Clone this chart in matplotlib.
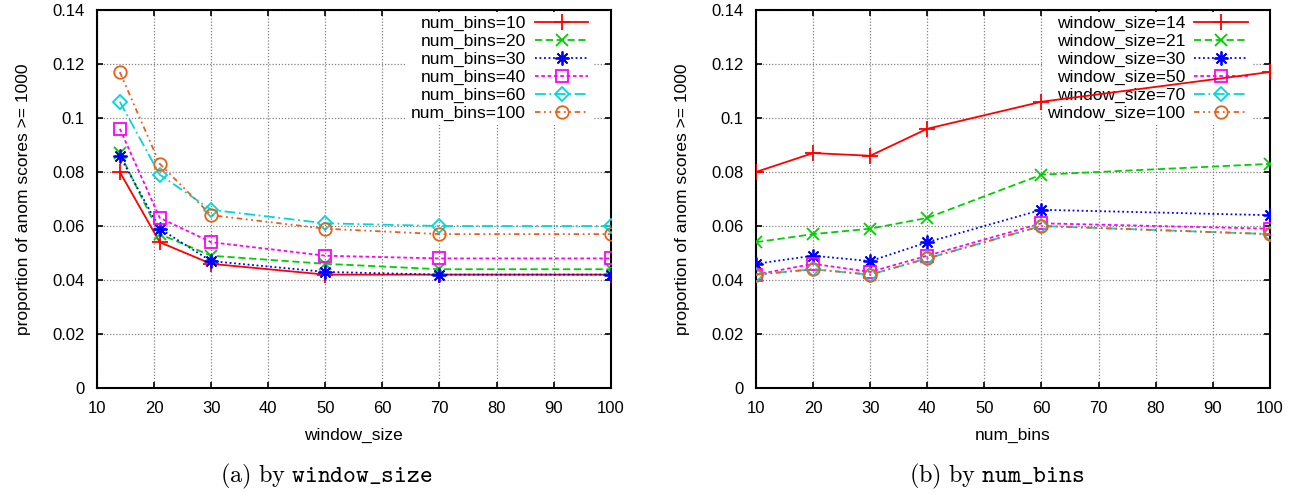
import numpy as np
import matplotlib
matplotlib.use('agg')
import matplotlib.pyplot as plt
from matplotlib.ticker import FuncFormatter, MultipleLocator

plt.rcParams['font.family'] = ['Liberation Sans', 'DejaVu Sans']
plt.rcParams['mathtext.fontset'] = 'cm'

# data: rows = num_bins, columns = window_size
window_sizes = [14, 21, 30, 50, 70, 100]
num_bins = [10, 20, 30, 40, 60, 100]
nb10 = [0.080, 0.054, 0.046, 0.042, 0.042, 0.042]
nb20 = [0.087, 0.057, 0.049, 0.046, 0.044, 0.044]
nb30 = [0.086, 0.059, 0.047, 0.043, 0.042, 0.042]
nb40 = [0.096, 0.063, 0.054, 0.049, 0.048, 0.048]
nb60 = [0.106, 0.079, 0.066, 0.061, 0.060, 0.060]
nb100 = [0.117, 0.083, 0.064, 0.059, 0.057, 0.057]
table = np.array([nb10, nb20, nb30, nb40, nb60, nb100])

colors = ['#ff0000', '#00d000', '#0000ff', '#ff00ff', '#00d8d8', '#e8601c']
styles = ['-', (0, (4, 2)), (0, (1, 1.5)), (0, (2, 1.5)), (0, (6, 2, 1, 2)), (0, (3, 2, 1, 2, 1, 2))]
markers = ['+', 'x', (8, 2, 0), 's', 'D', 'o']
msizes = [11, 9, 10, 9, 7, 9]

fig = plt.figure(figsize=(12.91, 4.95), dpi=100)
ax1 = fig.add_axes([0.0751, 0.216, 0.398, 0.764])
ax2 = fig.add_axes([0.5856, 0.216, 0.398, 0.764])


def draw(ax, xs, rows, labels, xlabel):
    for i in range(len(rows)):
        ax.plot(xs, rows[i], color=colors[i], linestyle=styles[i], marker=markers[i],
                markersize=msizes[i], markerfacecolor='none', markeredgewidth=1.3,
                linewidth=1.3, label=labels[i], zorder=3)
    ax.set_xlim(10, 100)
    ax.set_ylim(0, 0.14)
    ax.xaxis.set_major_locator(MultipleLocator(10))
    ax.yaxis.set_major_locator(MultipleLocator(0.02))
    ax.yaxis.set_major_formatter(FuncFormatter(lambda v, p: '%g' % round(v, 4)))
    ax.grid(True, color='#808080', linestyle=(0, (1, 1.5)), linewidth=0.9)
    ax.set_axisbelow(True)
    ax.tick_params(direction='in', top=True, right=True, length=4, width=1.2,
                   labelsize=12, pad=9)
    for s in ax.spines.values():
        s.set_linewidth(1.5)
    ax.set_xlabel(xlabel, fontsize=12.5, labelpad=9)
    ax.set_ylabel('proportion of anom scores >= 1000', fontsize=12.5, labelpad=15)
    leg = ax.legend(loc='upper right', bbox_to_anchor=(0.965, 0.995), markerfirst=False,
                    frameon=True, fontsize=12.5, handlelength=3.1, handletextpad=0.5,
                    labelspacing=0.15, borderaxespad=0.0, borderpad=0.25)
    leg.get_frame().set_edgecolor('none')
    leg.get_frame().set_facecolor('white')
    leg.get_frame().set_alpha(1)
    leg.set_zorder(2)


draw(ax1, window_sizes, table, ['num_bins=%d' % n for n in num_bins], 'window_size')
draw(ax2, num_bins, table.T, ['window_size=%d' % w for w in window_sizes], 'num_bins')

fig.text(0.253, 0.038, r'$\mathrm{(a)\ by\ }\mathtt{window\_size}$', fontsize=17.5, ha='center', va='center')
fig.text(0.772, 0.038, r'$\mathrm{(b)\ by\ }\mathtt{num\_bins}$', fontsize=17.5, ha='center', va='center')

fig.savefig('out.png', dpi=100)
